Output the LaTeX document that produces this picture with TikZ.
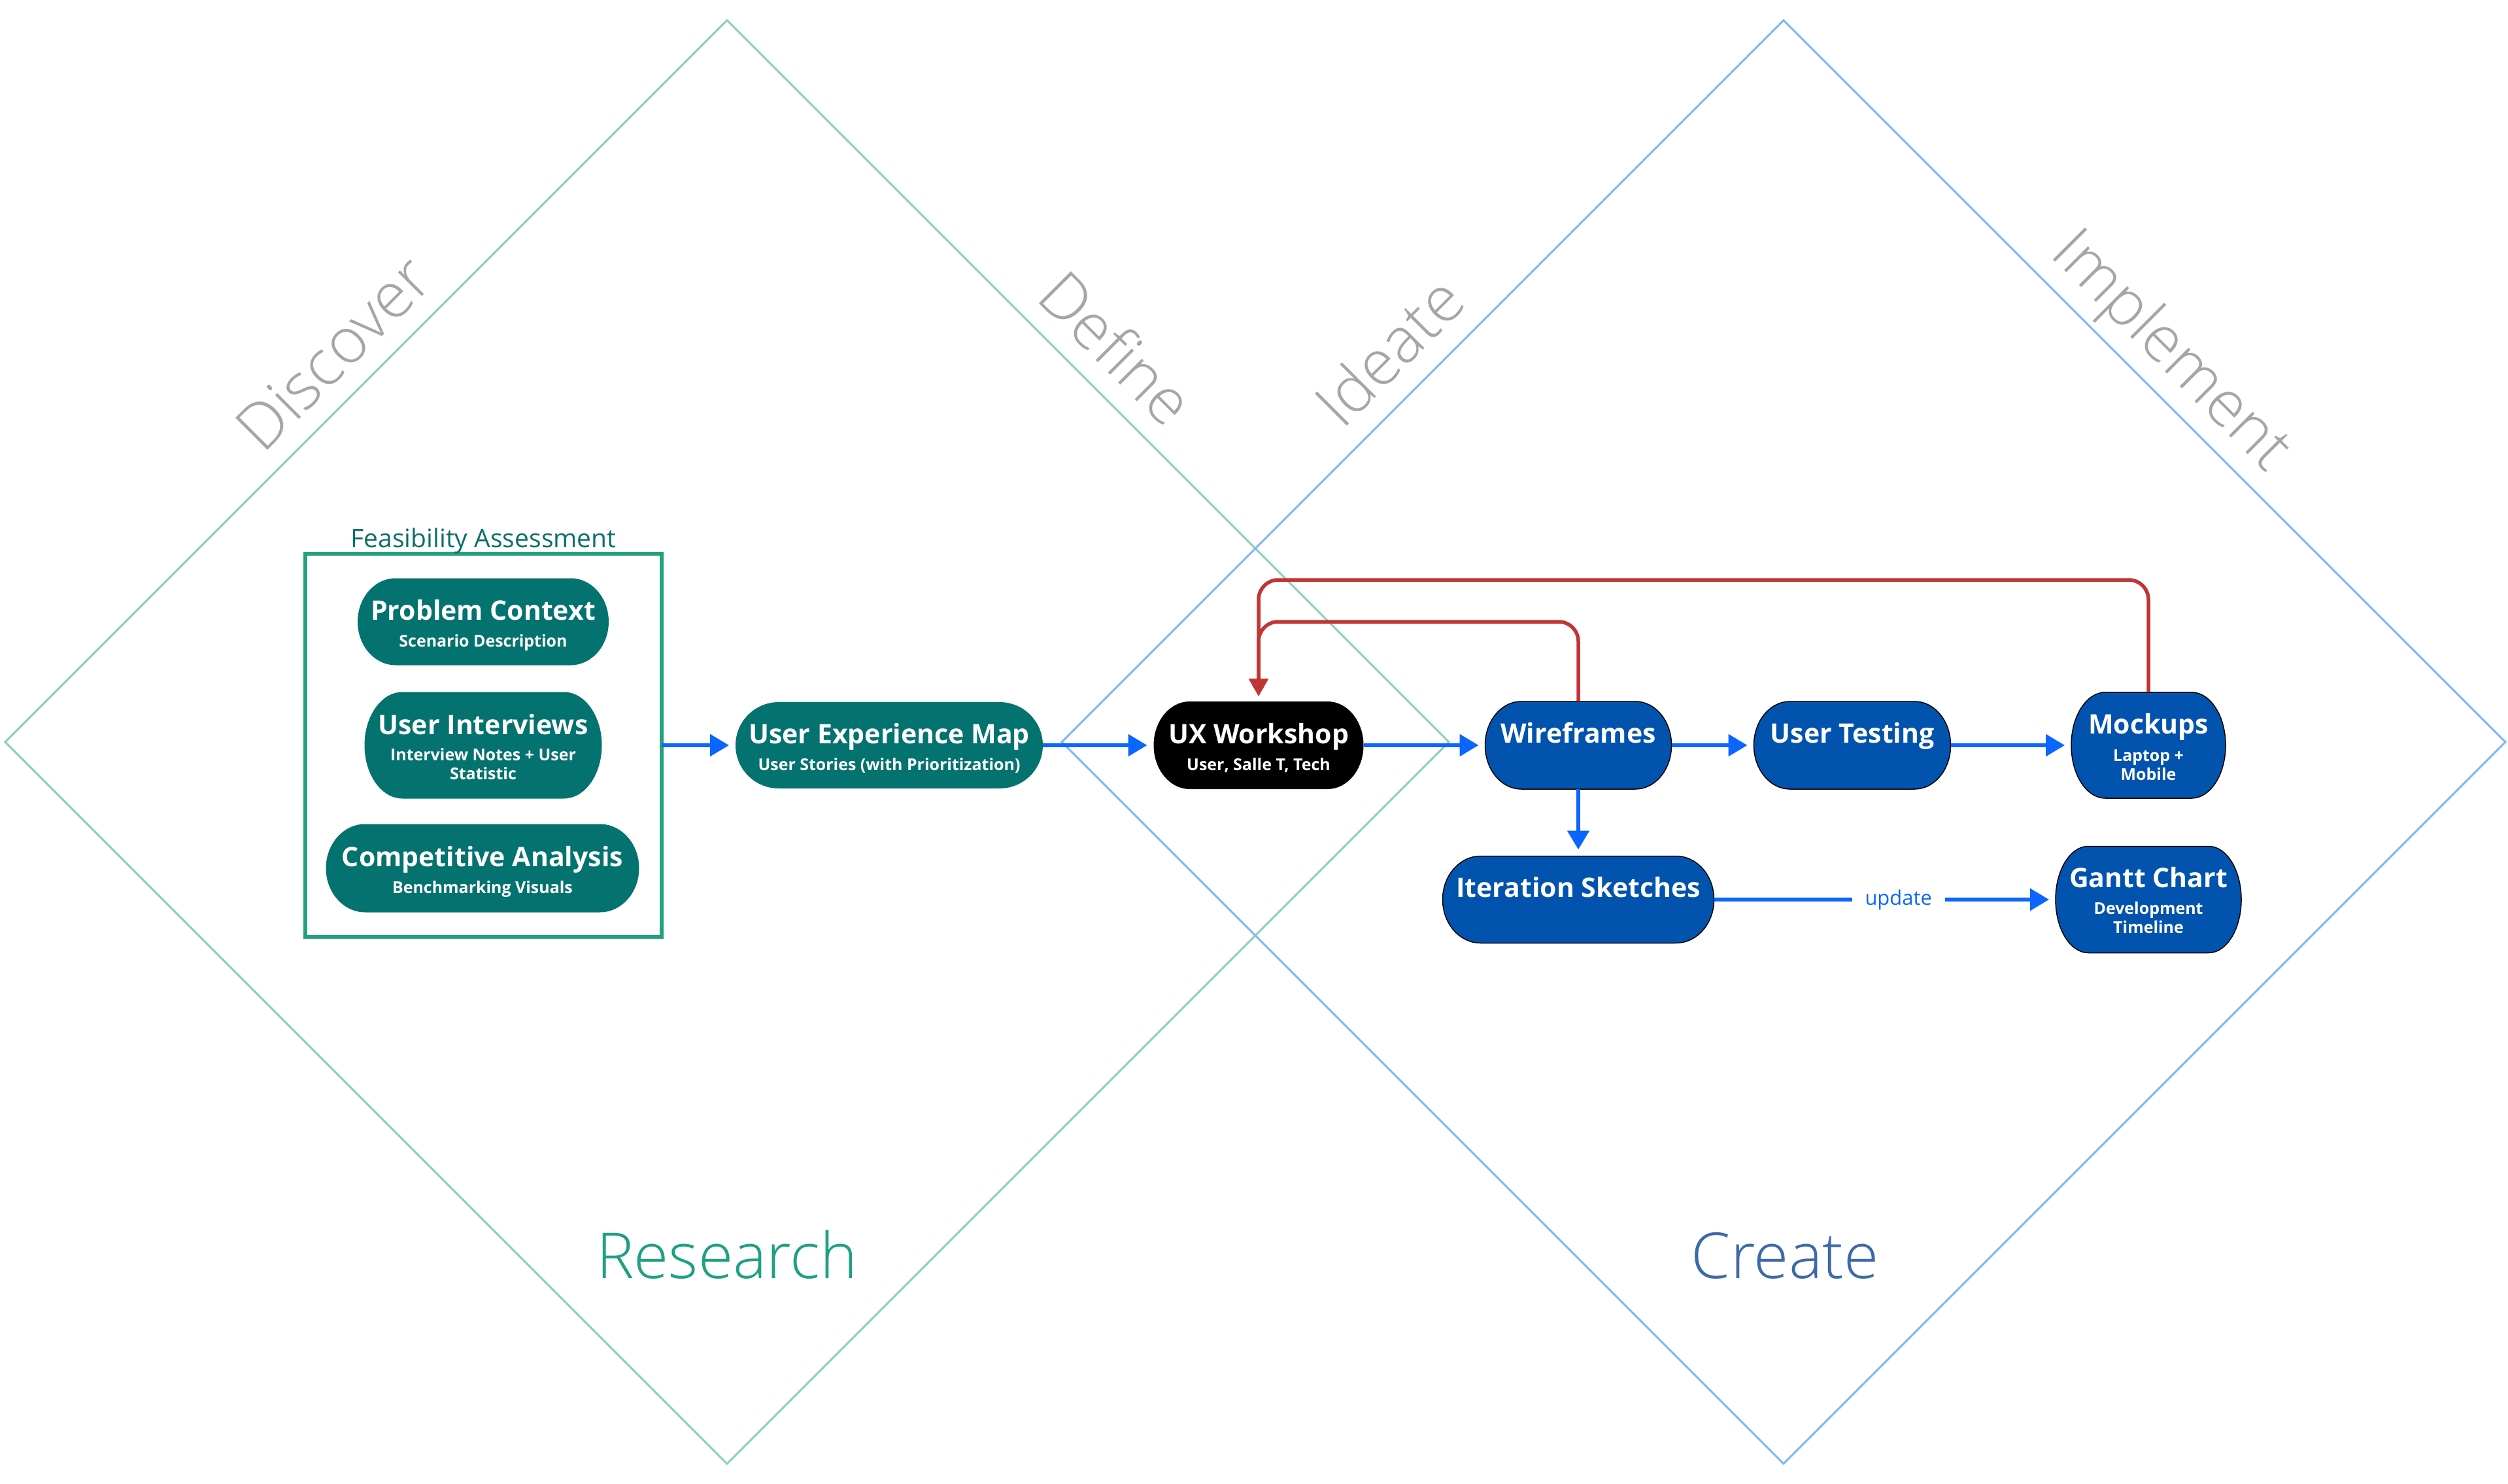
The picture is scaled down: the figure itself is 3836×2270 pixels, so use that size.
\documentclass[tikz,border=0pt]{standalone}
\usepackage{fontspec}
\setmainfont{Open Sans}
\newfontfamily\lightfont{Open Sans Light}
\usetikzlibrary{arrows.meta,calc}

\definecolor{nodeteal}{HTML}{04736F}
\definecolor{nodeblue}{HTML}{0253AE}
\definecolor{arrowblue}{HTML}{0A66FF}
\definecolor{linkred}{HTML}{C13535}
\definecolor{dgreen}{HTML}{8ECFBD}
\definecolor{dblue}{HTML}{80B8F8}
\definecolor{boxgreen}{HTML}{25A07F}
\definecolor{fatext}{HTML}{0B6F67}
\definecolor{resgreen}{HTML}{1FA082}
\definecolor{creblue}{HTML}{3D69A9}
\definecolor{phasegray}{HTML}{A6A6A6}

\newcommand\pill[7]{%
  \node[pillbox, minimum width=#4*0.1mm, minimum height=#5*0.1mm] (#1) at (#2,#3) {};
  \path[#6] ($(#1.north west)+(#7,0)$) -- ($(#1.north east)+(-#7,0)$)
    arc[x radius=#7*0.1mm, y radius=#5*0.05mm, start angle=90, end angle=-90]
    -- ($(#1.south west)+(#7,0)$)
    arc[x radius=#7*0.1mm, y radius=#5*0.05mm, start angle=270, end angle=90] -- cycle;
}

\tikzset{
  pillbox/.style={rectangle, inner sep=0pt, outer sep=0pt},
  tealpill/.style={fill=nodeteal},
  bluepill/.style={fill=nodeblue, draw=black, line width=0.15mm},
  blackpill/.style={fill=black},
  ttl/.style={font=\bfseries\fontsize{11.67}{14}\selectfont, text=white, inner sep=0pt, text height=2.9mm, text depth=0pt},
  sub/.style={font=\bfseries\fontsize{7.1}{8.5}\selectfont, text=white, inner sep=0pt, text height=1.8mm, text depth=0pt},
  phase/.style={font=\lightfont\fontsize{27.6}{32}\selectfont, text=phasegray, inner sep=0pt, text height=6.9mm, text depth=0pt},
  big/.style={font=\lightfont\fontsize{27.6}{32}\selectfont, inner sep=0pt, text height=6.9mm, text depth=0pt},
  fatitle/.style={font=\fontsize{11.1}{13}\selectfont, text=fatext, inner sep=0pt, text height=2.8mm, text depth=0pt},
  upd/.style={font=\fontsize{8.8}{10}\selectfont, text=arrowblue, fill=white, inner xsep=2mm, inner ysep=0.6mm},
  flow/.style={draw=arrowblue, line width=0.55mm, -{Triangle[length=2.9mm,width=3.3mm]}, shorten >=1mm},
  loopback/.style={draw=linkred, line width=0.55mm, rounded corners=3mm, -{Triangle[length=2.7mm,width=2.9mm]}, shorten >=0.8mm},
  greendiamond/.style={draw=dgreen, line width=0.3mm},
  bluediamond/.style={draw=dblue, line width=0.3mm},
}

\begin{document}
\begin{tikzpicture}[x=0.1mm, y=-0.1mm]
\fill[white] (0,0) rectangle (3836,2270);
\useasboundingbox (0,0) rectangle (3836,2270);

% diamonds
\draw[greendiamond] (1112,31) -- (2216,1135) -- (1112,2239) -- (8,1135) -- cycle;
\draw[bluediamond] (2728,31) -- (3832,1135) -- (2728,2239) -- (1624,1135) -- cycle;

% phase labels
\node[phase, rotate=45] (discover) at (510,540) {Discover};
\node[phase, rotate=-45] (define) at (1707,533) {Define};
\node[phase, rotate=45] (ideate) at (2125,538) {Ideate};
\node[phase, rotate=-45] (implement) at (3325,533) {Implement};
\node[big, text=resgreen] (research) at (1112,1921) {Research};
\node[big, text=creblue] (create) at (2730,1921) {Create};

% feasibility box
\node[draw=boxgreen, line width=0.6mm, minimum width=545*0.1mm, minimum height=586*0.1mm, inner sep=0pt, outer sep=0pt] (fa) at (739.5,1140) {};
\node[fatitle] (fa-t) at (739.5,823) {Feasibility Assessment};

% pills
\pill{pc}{739}{951}{384}{133}{tealpill}{58}
\node[ttl] (pc-t) at (739,934) {Problem Context};
\node[sub] (pc-s) at (739,980) {Scenario Description};

\pill{ui}{739}{1140}{363}{163}{tealpill}{58}
\node[ttl] (ui-t) at (739,1109) {User Interviews};
\node[sub] (ui-s1) at (739,1154) {Interview Notes + User};
\node[sub] (ui-s2) at (739,1183) {Statistic};

\pill{ca}{738}{1328}{479}{135}{tealpill}{60}
\node[ttl] (ca-t) at (738,1311) {Competitive Analysis};
\node[sub] (ca-s) at (738,1357) {Benchmarking Visuals};

\pill{uem}{1360}{1140}{470}{132}{tealpill}{66}
\node[ttl] (uem-t) at (1360,1123) {User Experience Map};
\node[sub] (uem-s) at (1360,1169) {User Stories (with Prioritization)};

\pill{ux}{1925}{1140}{321}{134}{blackpill}{55}
\node[ttl] (ux-t) at (1925,1123) {UX Workshop};
\node[sub] (ux-s) at (1925,1169) {User, Salle T, Tech};

\pill{wf}{2414}{1140}{285}{134}{bluepill}{55}
\node[ttl] (wf-t) at (2414,1122) {Wireframes};

\pill{ut}{2833}{1140}{301}{134}{bluepill}{55}
\node[ttl] (ut-t) at (2833,1122) {User Testing};

\pill{mk}{3286}{1140}{236}{162}{bluepill}{52}
\node[ttl] (mk-t) at (3286,1108) {Mockups};
\node[sub] (mk-s1) at (3286,1155) {Laptop +};
\node[sub] (mk-s2) at (3286,1184) {Mobile};

\pill{is}{2414}{1376}{415}{133}{bluepill}{58}
\node[ttl] (is-t) at (2414,1358) {Iteration Sketches};

\pill{gc}{3286}{1376}{284}{163}{bluepill}{50}
\node[ttl] (gc-t) at (3286,1343) {Gantt Chart};
\node[sub] (gc-s1) at (3286,1389) {Development};
\node[sub] (gc-s2) at (3286,1418) {Timeline};

% flow arrows
\draw[flow] (fa.east) -- (uem.west);
\draw[flow] (uem.east) -- (ux.west);
\draw[flow] (ux.east) -- (wf.west);
\draw[flow] (wf.east) -- (ut.west);
\draw[flow] (ut.east) -- (mk.west);
\draw[flow] (wf.south) -- (is.north);
\draw[flow] (is.east) -- node[upd, pos=0.54] (updlbl) {update} (gc.west);

% loop-back arrows
\draw[loopback] (wf.north) |- ($(ux.north)+(0,-122)$) -- (ux.north);
\draw[loopback] (mk.north) |- ($(ux.north)+(0,-186)$) -- (ux.north);
\end{tikzpicture}
\end{document}
